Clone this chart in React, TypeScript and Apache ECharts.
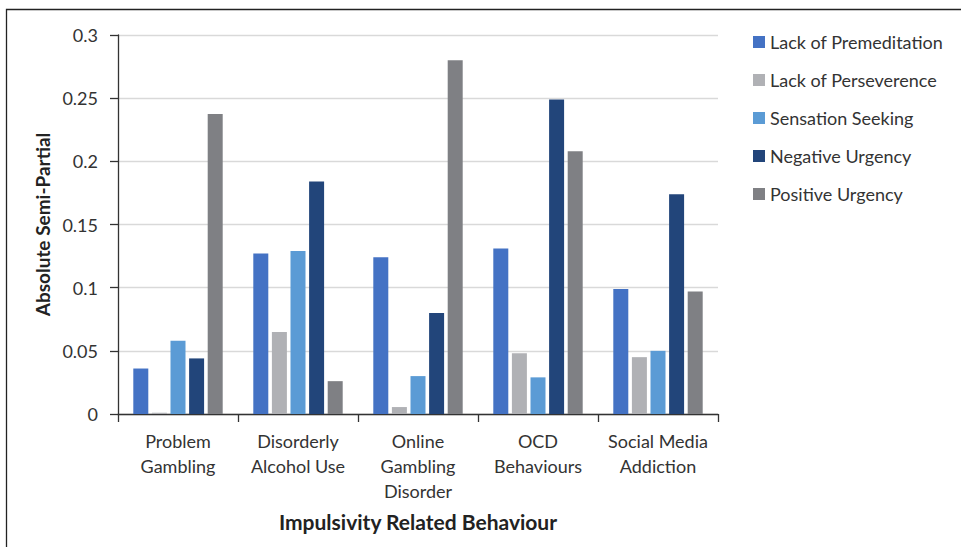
import React, { useEffect, useRef } from "react";
import * as echarts from "echarts";

const categories = [
  "Problem\nGambling",
  "Disorderly\nAlcohol Use",
  "Online\nGambling\nDisorder",
  "OCD\nBehaviours",
  "Social Media\nAddiction",
];
const seriesNames = [
  "Lack of Premeditation",
  "Lack of Perseverence",
  "Sensation Seeking",
  "Negative Urgency",
  "Positive Urgency",
];
const lackPremeditation = [0.036, 0.127, 0.124, 0.131, 0.099];
const lackPerseverence = [0.001, 0.065, 0.0055, 0.048, 0.045];
const sensationSeeking = [0.058, 0.129, 0.03, 0.029, 0.05];
const negativeUrgency = [0.044, 0.184, 0.08, 0.249, 0.174];
const positiveUrgency = [0.2375, 0.026, 0.28, 0.208, 0.097];
const yTicks = [0, 0.05, 0.1, 0.15, 0.2, 0.25, 0.3];
const colors = ["#4472C4", "#B0B1B5", "#5B9BD5", "#22457A", "#7F8084"];

const FONT = "Lato";

export default function App() {
  const ref = useRef<HTMLDivElement>(null);
  useEffect(() => {
    if (!ref.current) return;
    const chart = echarts.init(ref.current, undefined, { renderer: "svg" });
    const data = [lackPremeditation, lackPerseverence, sensationSeeking, negativeUrgency, positiveUrgency];
    chart.setOption({
      animation: false,
      textStyle: { fontFamily: FONT },
      graphic: [
        {
          type: "rect",
          shape: { x: 6.5, y: 9.5, width: 970, height: 560 },
          style: { fill: "none", stroke: "#222", lineWidth: 1.3 },
          silent: true,
        },
      ],
      legend: {
        orient: "vertical",
        left: 748,
        top: 28,
        itemWidth: 12,
        itemHeight: 12,
        itemGap: 20,
        icon: "rect",
        textStyle: { fontFamily: FONT, fontSize: 18, color: "#333" },
        data: seriesNames,
      },
      grid: { left: 118, right: 243, top: 35, bottom: 133 },
      xAxis: {
        type: "category",
        data: categories,
        axisLine: { lineStyle: { color: "#333", width: 1.3 } },
        axisTick: { show: true, length: 8, alignWithLabel: false, lineStyle: { color: "#333", width: 1.3 } },
        axisLabel: { fontFamily: FONT, fontSize: 18, color: "#333", lineHeight: 25, margin: 14, interval: 0 },
        name: "Impulsivity Related Behaviour",
        nameLocation: "middle",
        nameGap: 97,
        nameTextStyle: { fontFamily: FONT, fontSize: 21, fontWeight: "bold", color: "#222" },
      },
      yAxis: {
        type: "value",
        min: 0,
        max: 0.3,
        interval: 0.05,
        axisLine: { show: true, lineStyle: { color: "#333", width: 1.3 } },
        axisTick: { show: true, length: 8, lineStyle: { color: "#333", width: 1.3 } },
        splitLine: { lineStyle: { color: "#D9D9D9", width: 1.3 } },
        axisLabel: {
          fontFamily: FONT,
          fontSize: 18,
          color: "#333",
          margin: 20,
          formatter: (v: number) => {
            const t = yTicks.find((x) => Math.abs(x - v) < 1e-9);
            return t === undefined ? "" : String(t);
          },
        },
        name: "Absolute Semi-Partial",
        nameLocation: "middle",
        nameGap: 64,
        nameRotate: 90,
        nameTextStyle: { fontFamily: FONT, fontSize: 19, fontWeight: "bold", color: "#222" },
      },
      series: seriesNames.map((n, i) => ({
        name: n,
        type: "bar",
        data: data[i],
        barWidth: 15,
        barGap: "24%",
        itemStyle: { color: colors[i] },
      })),
    });
    return () => chart.dispose();
  }, []);
  return (
    <div
      ref={ref}
      style={{ position: "absolute", left: 0, top: 0, width: 961, height: 547, background: "#fff" }}
    />
  );
}
